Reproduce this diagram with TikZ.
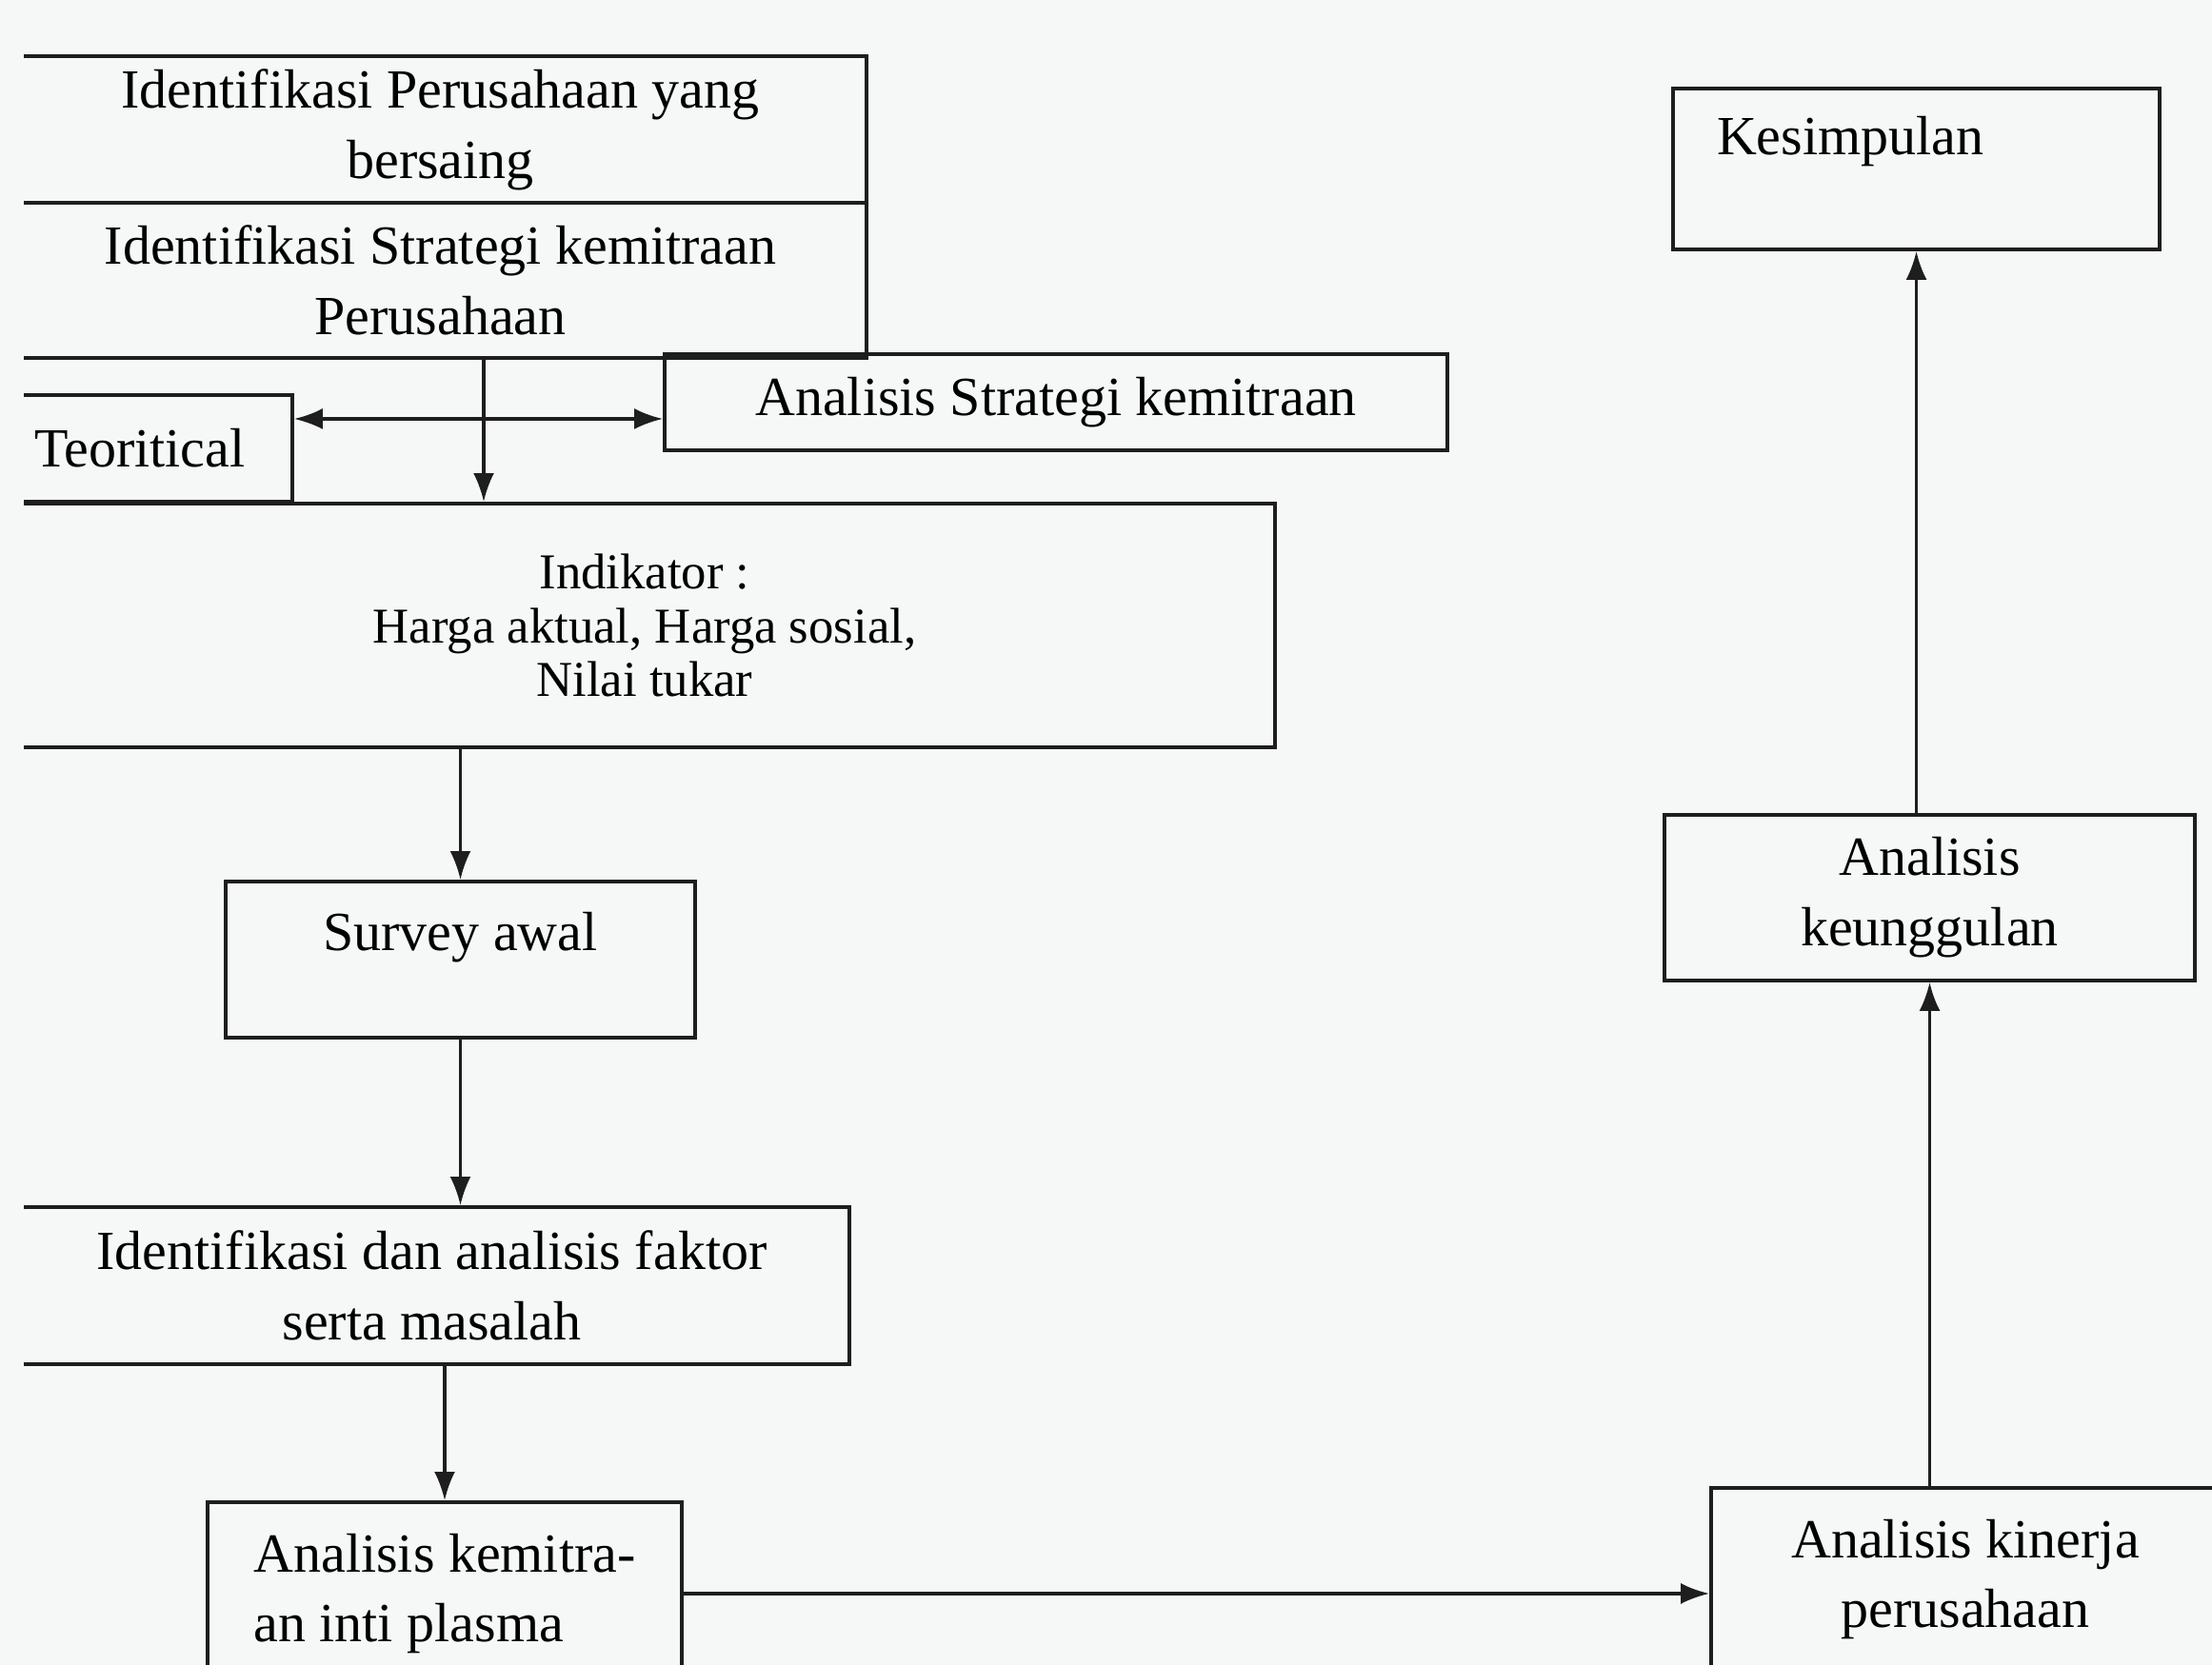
\documentclass[tikz,border=0pt]{standalone}
\usepackage{fontspec}
\setmainfont{Liberation Serif}
\usetikzlibrary{arrows.meta}
\definecolor{kertas}{RGB}{246,248,248}
\definecolor{tinta}{RGB}{30,30,30}

\tikzset{
    kotak/.style={draw=tinta, line width=1.1pt, align=center, font=\fontsize{16.5}{21}\selectfont},
    panah/.style={draw=tinta, line width=0.9pt, >={Latex[length=3mm,width=2.2mm]}, ->},
}

\begin{document}
\begin{tikzpicture}
    % Latar kertas
    \useasboundingbox (0,0) rectangle (23.23,17.49);
    \fill[kertas] (0,0) rectangle (23.23,17.49);
    \clip (0.25,0) rectangle (23.23,17.49);

    % Kolom kiri
    \node[kotak, minimum width=8.95cm, minimum height=1.54cm] (b1) at (4.625,16.13) {Identifikasi Perusahaan yang\\bersaing};
    \node[kotak, minimum width=8.95cm, minimum height=1.63cm] (b2) at (4.625,14.545) {Identifikasi Strategi kemitraan\\Perusahaan};
    \node[kotak, minimum width=2.92cm, minimum height=1.12cm, text width=2.5cm, align=left] (teo) at (1.61,12.78) {Teoritical};
    \node[kotak, minimum width=8.22cm, minimum height=1.01cm] (ana) at (11.09,13.265) {Analisis Strategi kemitraan};
    \node[kotak, minimum width=13.24cm, minimum height=2.56cm, font=\fontsize{15}{16}\selectfont] (ind) at (6.77,10.92) {Indikator :\\Harga aktual, Harga sosial,\\Nilai tukar};
    \node[kotak, minimum width=4.93cm, minimum height=1.64cm, text depth=0.6cm] (sur) at (4.835,7.41) {Survey awal};
    \node[kotak, minimum width=8.77cm, minimum height=1.65cm] (ida) at (4.535,3.985) {Identifikasi dan analisis faktor\\serta masalah};
    \node[kotak, minimum width=4.98cm, minimum height=1.92cm, align=left] (kem) at (4.67,0.75) {Analisis kemitra-\\an inti plasma};

    % Kolom kanan
    \node[kotak, minimum width=5.34cm, minimum height=1.92cm] (kin) at (20.64,0.90) {Analisis kinerja\\perusahaan};
    \node[kotak, minimum width=5.57cm, minimum height=1.74cm] (keu) at (20.265,8.06) {Analisis\\keunggulan};
    \node[kotak, minimum width=5.11cm, minimum height=1.69cm, text width=4.19cm, align=left, text depth=0.7cm] (kes) at (20.125,15.715) {Kesimpulan};

    % Panah
    \coordinate (silang) at (5.08,13.09);
    \draw[panah] (b2.south -| silang) -- (ind.north -| silang);
    \draw[panah, <->] (teo.east |- silang) -- (ana.west |- silang);
    \draw[panah] (ind.south -| sur.north) -- (sur.north);
    \draw[panah] (sur.south) -- (sur.south |- ida.north);
    \draw[panah] (ida.south -| kem.north) -- (kem.north);
    \draw[panah] (kem.east) -- (kem.east -| kin.west);
    \draw[panah] (kin.north -| keu.south) -- (keu.south);
    \draw[panah] (keu.north -| kes.south) -- (kes.south);
\end{tikzpicture}
\end{document}
